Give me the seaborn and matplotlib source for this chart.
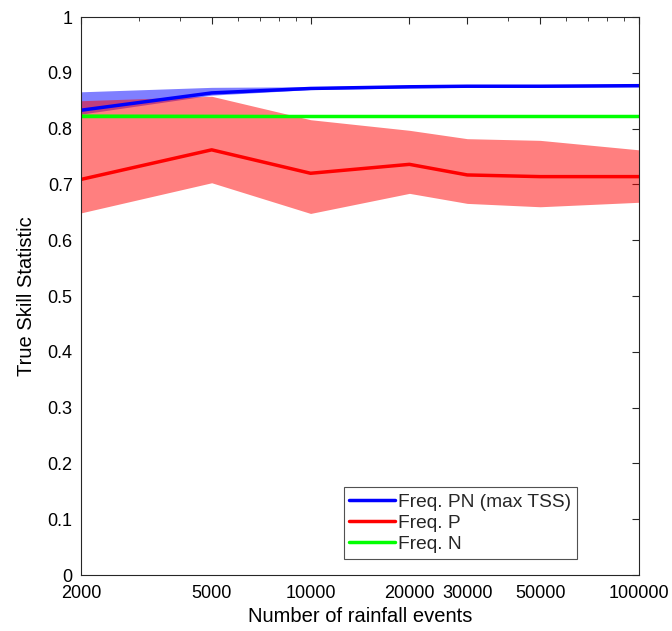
import numpy as np
import pandas as pd
import matplotlib
matplotlib.use("Agg")
import matplotlib.pyplot as plt
from matplotlib.ticker import FixedLocator, FixedFormatter, NullFormatter, LogLocator
import seaborn as sns

# number of rainfall events
n_events = [2000, 5000, 10000, 20000, 30000, 50000, 100000]

# Freq. PN (max TSS)
pn_mean = [0.833, 0.864, 0.872, 0.875, 0.876, 0.876, 0.877]
pn_low = [0.826, 0.860, 0.870, 0.873, 0.874, 0.874, 0.875]
pn_high = [0.866, 0.874, 0.875, 0.878, 0.878, 0.879, 0.879]

# Freq. P
p_mean = [0.709, 0.762, 0.720, 0.736, 0.717, 0.714, 0.714]
p_low = [0.649, 0.703, 0.648, 0.684, 0.666, 0.660, 0.668]
p_high = [0.850, 0.858, 0.816, 0.797, 0.782, 0.779, 0.762]

# Freq. N
n_mean = [0.823, 0.823, 0.823, 0.823, 0.823, 0.823, 0.823]
n_low = [0.820, 0.820, 0.821, 0.821, 0.821, 0.821, 0.821]
n_high = [0.827, 0.826, 0.825, 0.825, 0.825, 0.825, 0.825]

xtick_vals = [2000, 5000, 10000, 20000, 30000, 50000, 100000]
xtick_labels = ["2000", "5000", "10000", "20000", "30000", "50000", "100000"]
ytick_labels = ["0", "0.1", "0.2", "0.3", "0.4", "0.5", "0.6", "0.7", "0.8", "0.9", "1"]

sns.set_theme(style="white")
plt.rcParams['font.family'] = ['Liberation Sans', 'DejaVu Sans']

fig = plt.figure(figsize=(6.72, 6.31), dpi=100)
ax = fig.add_axes([0.1205, 0.0887, 0.8304, 0.8843])

series = [
    ("Freq. PN (max TSS)", pn_mean, pn_low, pn_high, "#0000ff"),
    ("Freq. P", p_mean, p_low, p_high, "#ff0000"),
    ("Freq. N", n_mean, n_low, n_high, "#00ff00"),
]

# shaded ranges first, then lines on top
for name, m, lo, hi, c in series:
    ax.fill_between(n_events, lo, hi, color=c, alpha=0.5, linewidth=0)

for name, m, lo, hi, c in series:
    df = pd.DataFrame({"x": n_events, "y": m})
    sns.lineplot(data=df, x="x", y="y", ax=ax, color=c, linewidth=2.5, label=name)

ax.set_xscale("log")
ax.set_xlim(2000, 100000)
ax.set_ylim(0, 1)
ax.xaxis.set_major_locator(FixedLocator(xtick_vals))
ax.xaxis.set_major_formatter(FixedFormatter(xtick_labels))
ax.xaxis.set_minor_locator(LogLocator(base=10, subs=np.arange(2, 10)))
ax.xaxis.set_minor_formatter(NullFormatter())
ax.set_yticks(np.arange(0, 1.01, 0.1))
ax.set_yticklabels(ytick_labels)

ax.tick_params(which="both", direction="in", top=True, right=True, colors="#262626",
               labelcolor="black", labelsize=13)
ax.tick_params(which="major", length=5, width=0.8)
ax.tick_params(which="minor", length=3, width=0.6)
ax.tick_params(axis="x", which="major", pad=7)
ax.tick_params(axis="y", which="major", pad=6)
for s in ax.spines.values():
    s.set_color("#262626")
    s.set_linewidth(0.8)

ax.set_xlabel("Number of rainfall events", fontsize=14.5, color="black", labelpad=4)
ax.set_ylabel("True Skill Statistic", fontsize=14.5, color="black", labelpad=8)

leg = ax.legend(loc="lower right", bbox_to_anchor=(0.889, 0.029), fontsize=13.8,
                frameon=True, fancybox=False, handlelength=2.4, borderaxespad=0,
                borderpad=0.3, labelspacing=0.2, handletextpad=0.15)
leg.get_frame().set_edgecolor("#262626")
leg.get_frame().set_linewidth(0.8)

fig.savefig("out.png", dpi=100)
